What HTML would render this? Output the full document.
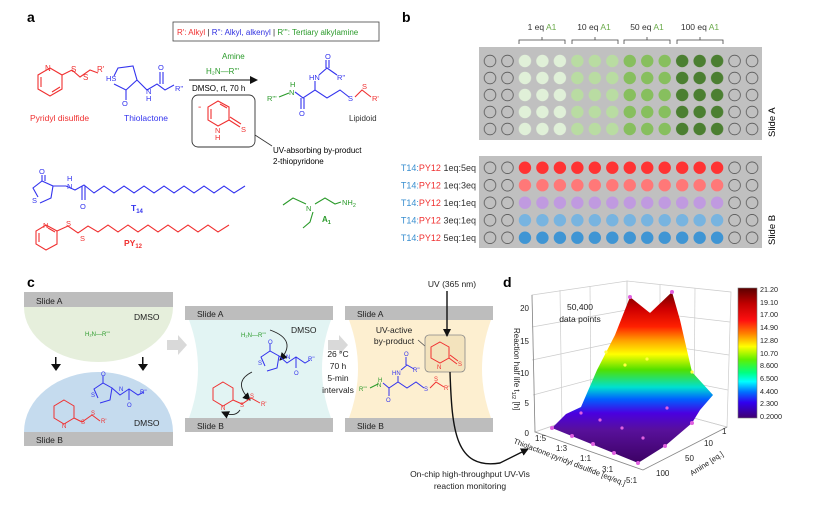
<!DOCTYPE html>
<html><head><meta charset="utf-8"><style>
html,body{margin:0;padding:0;background:#fff}
svg{display:block}
text{font-family:"Liberation Sans",Arial,sans-serif}
</style></head><body>
<svg width="831" height="505" viewBox="0 0 831 505" xmlns="http://www.w3.org/2000/svg">
<defs>
<pattern id="pE" x="481.27" y="52.5" width="17.47" height="17" patternUnits="userSpaceOnUse"><circle cx="8.735" cy="8.5" r="5.8" fill="none" stroke="#555" stroke-width="0.8"/></pattern>
<pattern id="pA1" x="481.27" y="52.5" width="17.47" height="17" patternUnits="userSpaceOnUse"><circle cx="8.735" cy="8.5" r="6.2" fill="#e0f0d8"/></pattern>
<pattern id="pA2" x="481.27" y="52.5" width="17.47" height="17" patternUnits="userSpaceOnUse"><circle cx="8.735" cy="8.5" r="6.2" fill="#b9dca2"/></pattern>
<pattern id="pA3" x="481.27" y="52.5" width="17.47" height="17" patternUnits="userSpaceOnUse"><circle cx="8.735" cy="8.5" r="6.2" fill="#87bf5e"/></pattern>
<pattern id="pA4" x="481.27" y="52.5" width="17.47" height="17" patternUnits="userSpaceOnUse"><circle cx="8.735" cy="8.5" r="6.2" fill="#4b7f31"/></pattern>
<pattern id="pEB" x="481.27" y="159" width="17.47" height="17.5" patternUnits="userSpaceOnUse"><circle cx="8.735" cy="8.75" r="5.8" fill="none" stroke="#555" stroke-width="0.8"/></pattern>
<linearGradient id="cb" x1="0" y1="0" x2="0" y2="1">
<stop offset="0" stop-color="#5a0000"/><stop offset="0.12" stop-color="#c00000"/><stop offset="0.25" stop-color="#ff1010"/><stop offset="0.35" stop-color="#ff8000"/><stop offset="0.45" stop-color="#ffff00"/><stop offset="0.55" stop-color="#60f000"/><stop offset="0.65" stop-color="#00ff80"/><stop offset="0.72" stop-color="#00ffff"/><stop offset="0.8" stop-color="#0070ff"/><stop offset="0.88" stop-color="#3000f0"/><stop offset="1" stop-color="#400070"/>
</linearGradient>
<linearGradient id="sf" gradientUnits="userSpaceOnUse" x1="0" y1="292" x2="0" y2="465">
<stop offset="0" stop-color="#700000"/><stop offset="0.1" stop-color="#d00000"/><stop offset="0.2" stop-color="#ff2000"/><stop offset="0.28" stop-color="#ffa000"/><stop offset="0.36" stop-color="#ffff00"/><stop offset="0.45" stop-color="#50e000"/><stop offset="0.55" stop-color="#00e0d0"/><stop offset="0.62" stop-color="#0060ff"/><stop offset="0.7" stop-color="#4a00e0"/><stop offset="0.8" stop-color="#58109a"/><stop offset="1" stop-color="#3a0060"/>
</linearGradient>
<marker id="ah" markerWidth="8" markerHeight="8" refX="7" refY="4" orient="auto" markerUnits="userSpaceOnUse"><path d="M0,0 L8,4 L0,8 Z" fill="#111"/></marker>
</defs>

<!-- ===== Panel a ===== -->
<text x="27" y="22" font-size="14" font-weight="bold">a</text>
<rect x="173" y="22" width="206" height="19" fill="#fff" stroke="#444" stroke-width="0.8"/>
<text x="177" y="35" font-size="8"><tspan fill="#f03030">R': Alkyl</tspan><tspan fill="#222">  |  </tspan><tspan fill="#3030e0">R'': Alkyl, alkenyl</tspan><tspan fill="#222">  |  </tspan><tspan fill="#2a9a2a">R''': Tertiary alkylamine</tspan></text>

<g fill="none" stroke="#f03030" stroke-width="1.1">
<polygon points="50,68 62,75 62,89 50,96 38,89 38,75"/>
<line x1="41" y1="77" x2="41" y2="87"/><line x1="52" y1="92" x2="60" y2="87"/>
<polyline points="62,75 72,70 80,77 90,70 98,73"/>
</g>
<g font-size="8" fill="#f03030"><text x="45" y="71">N</text><text x="71" y="72">S</text><text x="83" y="80">S</text><text x="97" y="72">R'</text>
<text x="30" y="121" font-size="8.5">Pyridyl disulfide</text></g>

<g fill="none" stroke="#3333ee" stroke-width="1.1">
<polyline points="114,76 118,68 133,66 137,80 126,90 114,84"/>
<line x1="126" y1="90" x2="126" y2="100"/>
<polyline points="137,80 147,90 157,84 165,90 174,85"/>
<line x1="160" y1="84" x2="160" y2="72"/><line x1="163" y1="84" x2="163" y2="72"/>
</g>
<g font-size="7.5" fill="#3333ee"><text x="106" y="81">HS</text><text x="122" y="106">O</text><text x="146" y="94">N</text><text x="146" y="101">H</text><text x="158" y="70">O</text><text x="175" y="91">R''</text>
<text x="124" y="121" font-size="8.5">Thiolactone</text></g>

<text x="222" y="59" font-size="8" fill="#2a9a2a">Amine</text>
<text x="206" y="74" font-size="8" fill="#2a9a2a">H₂N—R'''</text>
<line x1="189" y1="80" x2="257" y2="80" stroke="#111" stroke-width="1.1" marker-end="url(#ah)"/>
<text x="192" y="91" font-size="8">DMSO, rt, 70 h</text>
<rect x="192" y="95" width="63" height="52" rx="6" fill="#fff" stroke="#333" stroke-width="0.9"/>
<text x="198" y="110" font-size="10" fill="#f03030">-</text>
<g fill="none" stroke="#f03030" stroke-width="1.1">
<polygon points="218,101 229,107 229,120 218,126 208,120 208,107"/>
<line x1="211" y1="109" x2="211" y2="119"/><line x1="220" y1="104" x2="227" y2="108"/>
<line x1="229" y1="120" x2="240" y2="127"/><line x1="230" y1="117" x2="241" y2="124"/>
</g>
<g font-size="7.5" fill="#f03030"><text x="215" y="133">N</text><text x="215" y="140">H</text><text x="241" y="132">S</text></g>
<line x1="255" y1="135" x2="272" y2="146" stroke="#333" stroke-width="0.8"/>
<text x="273" y="153" font-size="8">UV-absorbing by-product</text>
<text x="273" y="164" font-size="8">2-thiopyridone</text>

<g fill="none" stroke-width="1.1">
<polyline stroke="#2a9a2a" points="279,97 289,93"/>
<polyline stroke="#3333ee" points="295,92 303,98 315,90 327,98 340,90 349,97"/>
<line stroke="#3333ee" x1="301" y1="98" x2="301" y2="109"/><line stroke="#3333ee" x1="304" y1="98" x2="304" y2="109"/>
<line stroke="#3333ee" x1="315" y1="90" x2="315" y2="81"/>
<polyline stroke="#3333ee" points="319,75 327,68 337,75"/>
<line stroke="#3333ee" x1="326" y1="68" x2="326" y2="60"/><line stroke="#3333ee" x1="329" y1="68" x2="329" y2="60"/>
<polyline stroke="#f03030" points="355,97 362,90 371,97"/>
</g>
<g font-size="7.5"><text x="267" y="101" fill="#2a9a2a">R'''</text><text x="290" y="87" fill="#2a9a2a">H</text><text x="289" y="95" fill="#2a9a2a">N</text>
<text x="299" y="116" fill="#3333ee">O</text><text x="309" y="80" fill="#3333ee">HN</text><text x="325" y="59" fill="#3333ee">O</text><text x="337" y="80" fill="#3333ee">R''</text>
<text x="348" y="101" fill="#3333ee">S</text><text x="362" y="89" fill="#f03030">S</text><text x="372" y="101" fill="#f03030">R'</text>
<text x="349" y="121" font-size="8" fill="#333">Lipidoid</text></g>

<!-- T14 -->
<g fill="none" stroke="#3333ee" stroke-width="1.1">
<polyline points="38,197 33,188 42,181 53,186 51,198 40,203"/>
<line x1="42" y1="181" x2="42" y2="175"/><line x1="45" y1="181" x2="45" y2="175"/>
<polyline points="53,186 66,186 75,190 84,185 94,193 104,186 114,193 124,186 134,193 144,186 154,193 164,186 174,193 184,186 194,193 204,186 214,193 224,186 234,193 245,186"/>
<line x1="82" y1="186" x2="82" y2="200"/><line x1="85" y1="186" x2="85" y2="200"/>
</g>
<g font-size="7.5" fill="#3333ee"><text x="39" y="174">O</text><text x="32" y="203">S</text><text x="67" y="181">H</text><text x="67" y="189">N</text><text x="80" y="209">O</text>
<text x="131" y="211" font-size="8.5" font-weight="bold">T<tspan font-size="6" dy="2">14</tspan></text></g>

<!-- PY12 -->
<g fill="none" stroke="#f03030" stroke-width="1.1">
<polygon points="46,225 57,231 57,244 46,250 36,244 36,231"/>
<line x1="39" y1="233" x2="39" y2="242"/><line x1="48" y1="228" x2="55" y2="232"/>
<polyline points="57,231 68,226 78,233 88,226 98,232 108,225 118,232 128,225 138,232 148,225 158,232 168,225 178,232 188,225 198,232 208,225 218,232 229,225"/>
</g>
<g font-size="7.5" fill="#f03030"><text x="43" y="228">N</text><text x="66" y="226">S</text><text x="80" y="241">S</text>
<text x="124" y="246" font-size="8.5" font-weight="bold">PY<tspan font-size="6" dy="2">12</tspan></text></g>

<!-- A1 -->
<g fill="none" stroke="#2a9a2a" stroke-width="1.1">
<polyline points="283,205 293,198 306,204"/><polyline points="313,212 310,222 303,228"/>
<polyline points="315,204 325,198 335,204 341,202"/>
</g>
<g font-size="7.5" fill="#2a9a2a"><text x="306" y="211">N</text><text x="342" y="205">NH<tspan font-size="5.5" dy="2">2</tspan></text>
<text x="322" y="222" font-size="8" font-weight="bold">A<tspan font-size="5.5" dy="2">1</tspan></text></g>

<!-- ===== Panel b ===== -->
<text x="402" y="22" font-size="14" font-weight="bold">b</text>
<g font-size="8.5" fill="#333" text-anchor="middle">
<text x="542" y="30">1 eq <tspan fill="#6aaa4a">A1</tspan></text>
<text x="594" y="30">10 eq <tspan fill="#6aaa4a">A1</tspan></text>
<text x="647" y="30">50 eq <tspan fill="#6aaa4a">A1</tspan></text>
<text x="700" y="30">100 eq <tspan fill="#6aaa4a">A1</tspan></text>
</g>
<g fill="none" stroke="#444" stroke-width="0.8">
<path d="M519,44 V40 H565 V44 M542,40 V37"/>
<path d="M572,44 V40 H618 V44 M595,40 V37"/>
<path d="M624,44 V40 H670 V44 M647,40 V37"/>
<path d="M677,44 V40 H723 V44 M700,40 V37"/>
</g>
<rect x="479" y="47" width="283" height="93" fill="#c0c0c0"/>
<rect x="481.27" y="52.5" width="34.94" height="85" fill="url(#pE)"/>
<rect x="516.21" y="52.5" width="52.41" height="85" fill="url(#pA1)"/>
<rect x="568.62" y="52.5" width="52.41" height="85" fill="url(#pA2)"/>
<rect x="621.03" y="52.5" width="52.41" height="85" fill="url(#pA3)"/>
<rect x="673.44" y="52.5" width="52.41" height="85" fill="url(#pA4)"/>
<rect x="725.85" y="52.5" width="34.94" height="85" fill="url(#pE)"/>
<text transform="translate(775,137) rotate(-90)" font-size="9.5">Slide A</text>

<rect x="479" y="156" width="283" height="92" fill="#c0c0c0"/>
<rect x="481.27" y="159" width="34.94" height="87.5" fill="url(#pEB)"/>
<rect x="725.85" y="159" width="34.94" height="87.5" fill="url(#pEB)"/>
<g>
<line x1="524.95" y1="167.7" x2="718.5" y2="167.7" stroke="#ff3333" stroke-width="12.4" stroke-linecap="round" stroke-dasharray="0 17.47"/>
<line x1="524.95" y1="185.2" x2="718.5" y2="185.2" stroke="#ff7878" stroke-width="12.4" stroke-linecap="round" stroke-dasharray="0 17.47"/>
<line x1="524.95" y1="202.7" x2="718.5" y2="202.7" stroke="#c09ae0" stroke-width="12.4" stroke-linecap="round" stroke-dasharray="0 17.47"/>
<line x1="524.95" y1="220.2" x2="718.5" y2="220.2" stroke="#78b4e0" stroke-width="12.4" stroke-linecap="round" stroke-dasharray="0 17.47"/>
<line x1="524.95" y1="237.7" x2="718.5" y2="237.7" stroke="#3f95d4" stroke-width="12.4" stroke-linecap="round" stroke-dasharray="0 17.47"/>
</g>
<g font-size="9" text-anchor="end" fill="#333">
<text x="476" y="171"><tspan fill="#3a8fd0">T14:</tspan><tspan fill="#f03030">PY12</tspan> 1eq:5eq</text>
<text x="476" y="188.5"><tspan fill="#3a8fd0">T14:</tspan><tspan fill="#f03030">PY12</tspan> 1eq:3eq</text>
<text x="476" y="206"><tspan fill="#3a8fd0">T14:</tspan><tspan fill="#f03030">PY12</tspan> 1eq:1eq</text>
<text x="476" y="223.5"><tspan fill="#3a8fd0">T14:</tspan><tspan fill="#f03030">PY12</tspan> 3eq:1eq</text>
<text x="476" y="241"><tspan fill="#3a8fd0">T14:</tspan><tspan fill="#f03030">PY12</tspan> 5eq:1eq</text>
</g>
<text transform="translate(775,245) rotate(-90)" font-size="9.5">Slide B</text>

<!-- ===== Panel c ===== -->
<text x="27" y="287" font-size="14" font-weight="bold">c</text>
<path d="M24,307 H173 A74.5,55 0 0 1 24,307 Z" fill="#e6efdc"/>
<rect x="24" y="292" width="149" height="15" fill="#bdbdbd"/>
<text x="36" y="304" font-size="8.5" fill="#222">Slide A</text>
<text x="134" y="320" font-size="8.5" fill="#222">DMSO</text>
<text x="85" y="336" font-size="6" fill="#2a9a2a">H₂N—R'''</text>
<g fill="#111"><rect x="55" y="357" width="1.5" height="8"/><path d="M51,364 H61 L56,371 Z"/>
<rect x="142" y="357" width="1.5" height="8"/><path d="M138,364 H148 L143,371 Z"/></g>
<path d="M24,432 A74.5,60 0 0 1 173,432 Z" fill="#c5dbee"/>
<rect x="24" y="432" width="149" height="14" fill="#bdbdbd"/>
<text x="36" y="443" font-size="8.5" fill="#222">Slide B</text>
<text x="134" y="426" font-size="8.5" fill="#222">DMSO</text>
<g fill="none" stroke="#3333ee" stroke-width="1">
<polyline points="98,398 94,389 103,383 112,388 110,400 100,403"/><line x1="103" y1="383" x2="103" y2="376"/>
<polyline points="112,388 120,395 129,389 138,395 144,392"/><line x1="129" y1="389" x2="129" y2="400"/>
</g>
<g font-size="6" fill="#3333ee"><text x="101" y="376">O</text><text x="91" y="397">S</text><text x="119" y="391">N</text><text x="127" y="407">O</text><text x="140" y="394">R''</text></g>
<g fill="none" stroke="#f03030" stroke-width="1">
<polygon points="64,400 74,406 74,418 64,424 54,418 54,406"/>
<polyline points="74,418 82,422 92,415 100,421"/>
</g>
<g font-size="6" fill="#f03030"><text x="62" y="428">N</text><text x="81" y="424">S</text><text x="91" y="415">S</text><text x="101" y="423">R'</text></g>

<path d="M167,340 H178 V335 L187,345 L178,355 V350 H167 Z" fill="#d9d9d9"/>
<path d="M328,340 H339 V335 L348,345 L339,355 V350 H328 Z" fill="#d9d9d9"/>

<path d="M189,320 L331,320 Q313,369 331,418 L189,418 Q207,369 189,320 Z" fill="#e2f4f3"/>
<rect x="185" y="306" width="148" height="14" fill="#bdbdbd"/>
<rect x="185" y="418" width="148" height="14" fill="#bdbdbd"/>
<text x="197" y="317" font-size="8.5" fill="#222">Slide A</text>
<text x="197" y="429" font-size="8.5" fill="#222">Slide B</text>
<text x="291" y="333" font-size="8.5" fill="#222">DMSO</text>
<text x="241" y="337" font-size="6" fill="#2a9a2a">H₂N—R'''</text>
<path d="M270,330 Q298,340 280,360" fill="none" stroke="#222" stroke-width="0.9" marker-end="url(#ah)"/>
<path d="M252,372 Q232,382 250,400" fill="none" stroke="#222" stroke-width="0.9" marker-end="url(#ah)"/>
<path d="M240,410 Q235,418 222,412" fill="none" stroke="#222" stroke-width="0.9" marker-end="url(#ah)"/>
<g fill="none" stroke="#3333ee" stroke-width="1">
<polyline points="265,366 261,357 270,351 279,356 277,368 267,371"/><line x1="270" y1="351" x2="270" y2="344"/>
<polyline points="279,356 287,363 296,357 305,363 310,360"/><line x1="296" y1="357" x2="296" y2="368"/>
</g>
<g font-size="6" fill="#3333ee"><text x="268" y="344">O</text><text x="258" y="365">S</text><text x="286" y="359">N</text><text x="294" y="375">O</text><text x="308" y="361">R''</text></g>
<g fill="none" stroke="#f03030" stroke-width="1">
<polygon points="223,382 233,388 233,400 223,406 213,400 213,388"/>
<polyline points="233,400 242,404 251,398 260,403"/>
</g>
<g font-size="6" fill="#f03030"><text x="221" y="410">N</text><text x="240" y="407">S</text><text x="250" y="398">S</text><text x="261" y="406">R'</text></g>
<g font-size="8.5" fill="#222" text-anchor="middle">
<text x="338" y="357">26 °C</text><text x="338" y="369">70 h</text><text x="338" y="381">5-min</text><text x="338" y="393">intervals</text></g>

<path d="M349,320 L491,320 Q473,369 491,418 L349,418 Q367,369 349,320 Z" fill="#fdefd0"/>
<rect x="345" y="306" width="148" height="14" fill="#bdbdbd"/>
<rect x="345" y="418" width="148" height="14" fill="#bdbdbd"/>
<text x="357" y="317" font-size="8.5" fill="#222">Slide A</text>
<text x="357" y="429" font-size="8.5" fill="#222">Slide B</text>
<text x="394" y="333" font-size="8.5" fill="#222" text-anchor="middle">UV-active</text>
<text x="394" y="344" font-size="8.5" fill="#222" text-anchor="middle">by-product</text>
<line x1="418" y1="340" x2="426" y2="347" stroke="#444" stroke-width="0.7"/>
<rect x="425" y="335" width="40" height="37" rx="4" fill="#f3e3bd" stroke="#888" stroke-width="0.8"/>
<g fill="none" stroke="#f03030" stroke-width="1">
<polygon points="440,342 449,347 449,358 440,363 431,358 431,347"/>
<line x1="449" y1="358" x2="457" y2="364"/><line x1="450" y1="355" x2="458" y2="361"/>
</g>
<g font-size="6" fill="#f03030"><text x="437" y="369">N</text><text x="458" y="366">S</text></g>
<text x="452" y="287" font-size="8.5" fill="#222" text-anchor="middle">UV (365 nm)</text>
<line x1="447" y1="291" x2="447" y2="336" stroke="#111" stroke-width="1.4" marker-end="url(#ah)"/>
<path d="M450,372 C452,430 455,470 500,463 L528,449" fill="none" stroke="#111" stroke-width="1.4" marker-end="url(#ah)"/>
<g fill="none" stroke-width="1">
<polyline stroke="#2a9a2a" points="370,388 378,384"/>
<polyline stroke="#3333ee" points="383,383 389,388 398,382 407,388 416,382 424,388"/>
<line stroke="#3333ee" x1="389" y1="388" x2="389" y2="396"/><line stroke="#3333ee" x1="398" y1="382" x2="398" y2="376"/>
<polyline stroke="#3333ee" points="401,370 407,365 414,369"/><line stroke="#3333ee" x1="406" y1="365" x2="406" y2="357"/>
<polyline stroke="#f03030" points="430,388 436,382 444,387"/>
</g>
<g font-size="6"><text x="359" y="391" fill="#2a9a2a">R'''</text><text x="378" y="382" fill="#2a9a2a">H</text><text x="377" y="387" fill="#2a9a2a">N</text>
<text x="386" y="402" fill="#3333ee">O</text><text x="392" y="375" fill="#3333ee">HN</text><text x="404" y="356" fill="#3333ee">O</text><text x="413" y="372" fill="#3333ee">R''</text>
<text x="424" y="391" fill="#3333ee">S</text><text x="434" y="381" fill="#f03030">S</text><text x="444" y="390" fill="#f03030">R'</text></g>
<text x="470" y="477" font-size="8.5" fill="#222" text-anchor="middle">On-chip high-throughput UV-Vis</text>
<text x="470" y="489" font-size="8.5" fill="#222" text-anchor="middle">reaction monitoring</text>

<!-- ===== Panel d ===== -->
<text x="503" y="287" font-size="14" font-weight="bold">d</text>
<g fill="none" stroke="#ccc" stroke-width="0.7">
<polygon points="532,295 627,281 627,400 535,432"/>
<polygon points="627,281 731,292 727,427 627,400"/>
<polygon points="535,432 627,400 727,427 643,470"/>
<line x1="532" y1="327" x2="627" y2="310"/><line x1="532" y1="360" x2="627" y2="340"/><line x1="533" y1="395" x2="627" y2="370"/>
<line x1="627" y1="310" x2="730" y2="322"/><line x1="627" y1="340" x2="729" y2="355"/><line x1="627" y1="370" x2="728" y2="390"/>
<line x1="560" y1="290" x2="562" y2="424"/><line x1="590" y1="286" x2="591" y2="414"/>
<line x1="660" y1="285" x2="660" y2="410"/><line x1="695" y1="288" x2="694" y2="418"/>
</g>
<g stroke="#888" stroke-width="0.8" fill="none"><polyline points="532,295 535,432 643,470 727,427"/></g>
<polygon points="552,428 566,414 581,407 597,370 615,335 630,297 650,313 672,292 680,320 692,372 713,395 700,410 692,423 665,446 638,463" fill="url(#sf)"/>
<g fill="#e060e0">
<circle cx="630" cy="297" r="2"/><circle cx="672" cy="292" r="2"/><circle cx="552" cy="428" r="2"/><circle cx="572" cy="436" r="2"/><circle cx="593" cy="444" r="2"/><circle cx="614" cy="453" r="2"/><circle cx="638" cy="463" r="2"/><circle cx="665" cy="446" r="2"/><circle cx="692" cy="423" r="2"/><circle cx="581" cy="413" r="1.6"/><circle cx="600" cy="420" r="1.6"/><circle cx="622" cy="428" r="1.6"/><circle cx="643" cy="438" r="1.6"/><circle cx="667" cy="408" r="1.6"/>
</g>
<g fill="#ffff40"><circle cx="606" cy="352" r="1.6"/><circle cx="625" cy="365" r="1.6"/><circle cx="647" cy="359" r="1.6"/><circle cx="692" cy="372" r="1.6"/></g>
<g font-size="8" fill="#222" text-anchor="end">
<text x="529" y="311">20</text><text x="529" y="344">15</text><text x="529" y="376">10</text><text x="529" y="406">5</text><text x="529" y="436">0</text></g>
<text transform="translate(514,328) rotate(90)" font-size="8" fill="#222">Reaction half life t<tspan font-size="5.5" dy="2">1/2</tspan><tspan dy="-2"> [h]</tspan></text>
<text x="580" y="310" font-size="8.5" text-anchor="middle" fill="#222">50,400</text>
<text x="580" y="322" font-size="8.5" text-anchor="middle" fill="#222">data points</text>
<g font-size="8" fill="#222">
<text x="535" y="441">1:5</text><text x="556" y="451">1:3</text><text x="580" y="461">1:1</text><text x="602" y="472">3:1</text><text x="626" y="483">5:1</text>
<text x="656" y="476">100</text><text x="685" y="461">50</text><text x="704" y="446">10</text><text x="722" y="434">1</text></g>
<text transform="translate(513,443) rotate(21)" font-size="7.5" fill="#222">Thiolactone:pyridyl disulfide [eq/eq.]</text>
<text transform="translate(692,476) rotate(-33)" font-size="7.5" fill="#222">Amine [eq.]</text>
<rect x="738" y="288" width="19" height="130" fill="url(#cb)" stroke="#777" stroke-width="0.6"/>
<g font-size="7.2" fill="#222">
<text x="760" y="292">21.20</text><text x="760" y="305">19.10</text><text x="760" y="317">17.00</text><text x="760" y="330">14.90</text><text x="760" y="343">12.80</text><text x="760" y="356">10.70</text><text x="760" y="368">8.600</text><text x="760" y="381">6.500</text><text x="760" y="394">4.400</text><text x="760" y="406">2.300</text><text x="760" y="419">0.2000</text></g>
</svg>
</body></html>
